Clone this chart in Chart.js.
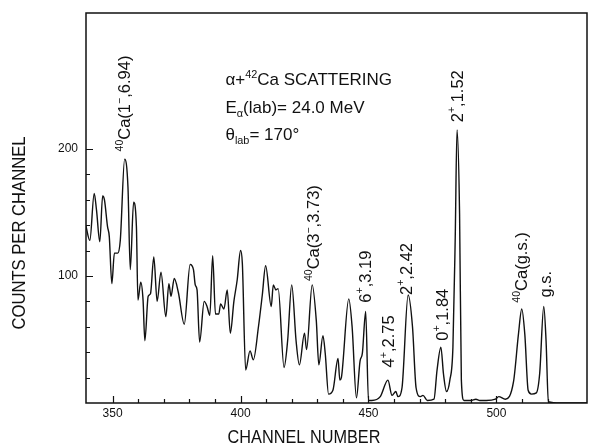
<!DOCTYPE html>
<html>
<head>
<meta charset="utf-8">
<script src="https://cdn.jsdelivr.net/npm/chart.js@4.4.1/dist/chart.umd.min.js"></script>
<style>
  html, body { margin: 0; padding: 0; background: #fff; }
</style>
</head>
<body>
<canvas id="spectrum" width="589" height="445"></canvas>
<script>
// alpha + 42Ca scattering spectrum
const channels = [
  339.5, 341.1, 342.8, 343.7, 345.0, 346.1, 346.8, 348.0, 348.7, 349.7,
  350.7, 352.0, 353.0, 354.7, 356.0, 356.9, 358.2, 359.3, 359.9, 361.0,
  361.9, 362.6, 363.9, 364.8, 366.1, 367.4, 368.9, 370.8, 372.0, 372.8,
  374.1, 375.7, 378.0, 380.3, 381.6, 382.3, 383.0, 384.0, 385.8, 386.9,
  388.0, 389.1, 390.2, 391.5, 392.2, 393.5, 394.8, 396.0, 397.4, 398.7,
  400.0, 400.7, 402.0, 403.7, 405.0, 407.0, 408.5, 409.8, 412.0, 412.8,
  413.8, 414.7, 417.0, 418.4, 420.0, 421.7, 423.0, 425.0, 425.8, 428.0,
  429.6, 430.6, 432.2, 433.1, 434.4, 436.1, 438.1, 438.8, 439.4, 442.3,
  443.6, 445.3, 446.7, 447.6, 448.9, 450.0, 451.3, 454.6, 457.6, 459.2,
  460.7, 461.5, 463.1, 465.5, 467.2, 468.6, 470.3, 471.3, 473.0, 475.6,
  476.8, 478.3, 479.3, 480.5, 481.8, 483.0, 483.9, 484.6, 485.6, 486.3,
  487.3, 490.0, 492.0, 493.5, 496.0, 499.6, 500.9, 503.5, 506.7, 508.6,
  509.9, 511.1, 512.4, 513.7, 515.6, 516.9, 518.5, 519.4, 520.3, 525.0,
  535.4
];
const counts = [
  140, 128, 165, 152, 127, 163, 160, 139, 131, 94,
  118, 118, 128, 192, 170, 105, 158, 139, 81, 95,
  81, 49, 84, 86, 115, 80, 103, 68, 94, 84,
  98, 87, 62, 109, 105, 93, 89, 48, 80, 76,
  69, 116, 70, 70, 78, 74, 89, 55, 80, 97,
  120, 110, 26, 41, 34, 60, 85, 108, 76, 93,
  89, 90, 28, 49, 93, 49, 30, 55, 42, 93,
  65, 30, 53, 39, 7, 10, 35, 18, 20, 82,
  60, 4, 33, 39, 72, 2, 2, 5, 18, 6,
  9, 5, 12, 85, 60, 12, 5, 6, 2, 3,
  26, 44, 23, 9, 18, 44, 130, 215, 149, 18,
  2, 2, 3, 2, 2, 3, 5, 3, 17, 54,
  74, 54, 10, 7, 8, 23, 76, 49, 1, 0,
  0
];
const xTickLabels = [350, 400, 450, 500];
const yTickLabels = [100, 200];

const FONT = '"Liberation Sans", Arial, sans-serif';

// text made of [string, kind] pieces, kind = '', 'sup' or 'sub'
function drawRich(ctx, segs, x, y, size, rotate) {
  ctx.save();
  ctx.translate(x, y);
  if (rotate) ctx.rotate(-Math.PI / 2);
  ctx.fillStyle = '#111';
  ctx.textBaseline = 'alphabetic';
  ctx.textAlign = 'left';
  let cx = 0;
  segs.forEach(([t, kind]) => {
    const s = kind ? size * 0.64 : size;
    ctx.font = s + 'px ' + FONT;
    const dy = kind === 'sup' ? -size * 0.45 : kind === 'sub' ? size * 0.25 : 0;
    ctx.fillText(t, cx, dy);
    cx += ctx.measureText(t).width;
  });
  ctx.restore();
}

// rotated peak labels: channel of the text column, count where text starts
const peakLabels = [
  [354.6, 198, [['40', 'sup'], ['Ca(1', ''], ['\u2212', 'sup'], [',6.94)', '']]],
  [428.5, 96, [['40', 'sup'], ['Ca(3', ''], ['\u2212', 'sup'], [',3.73)', '']]],
  [448.6, 79, [['6', ''], ['+', 'sup'], [',3.19', '']]],
  [457.7, 28, [['4', ''], ['+', 'sup'], [',2.75', '']]],
  [464.6, 85, [['2', ''], ['+', 'sup'], [',2.42', '']]],
  [478.7, 49, [['0', ''], ['+', 'sup'], [',1.84', '']]],
  [484.5, 221, [['2', ''], ['+', 'sup'], [',1.52', '']]],
  [509.8, 79, [['40', 'sup'], ['Ca(g.s.)', '']]],
  [519.0, 83, [['g.s.', '']]]
];

const infoLines = [
  [394.1, 250, [['\u03b1+', ''], ['42', 'sup'], ['Ca SCATTERING', '']]],
  [394.1, 228.5, [['E', ''], ['\u03b1', 'sub'], ['(lab)= 24.0 MeV', '']]],
  [394.1, 207, [['\u03b8', ''], ['lab', 'sub'], ['= 170\u00b0', '']]]
];

const decorations = {
  id: 'decorations',
  afterDraw(chart) {
    const { ctx, chartArea: a, scales: { x, y } } = chart;
    ctx.save();
    ctx.strokeStyle = '#111';
    ctx.lineWidth = 1.5;
    ctx.strokeRect(a.left, a.top, a.right - a.left, a.bottom - a.top);

    // inward tick marks
    ctx.lineWidth = 1.2;
    ctx.beginPath();
    for (let c = 350; c <= 520; c += 10) {
      const px = Math.round(x.getPixelForValue(c)) + 0.5;
      const len = c % 50 === 0 ? 7 : 4;
      ctx.moveTo(px, a.bottom);
      ctx.lineTo(px, a.bottom - len);
    }
    for (let v = 20; v <= 200; v += 20) {
      const py = Math.round(y.getPixelForValue(v)) + 0.5;
      const len = v % 100 === 0 ? 7 : 4;
      ctx.moveTo(a.left, py);
      ctx.lineTo(a.left + len, py);
    }
    ctx.stroke();

    // tick labels
    ctx.fillStyle = '#111';
    ctx.font = '12px ' + FONT;
    ctx.textAlign = 'center';
    ctx.textBaseline = 'top';
    xTickLabels.forEach((c) => ctx.fillText(String(c), x.getPixelForValue(c), a.bottom + 5));
    ctx.textAlign = 'right';
    ctx.textBaseline = 'middle';
    yTickLabels.forEach((v) => ctx.fillText(String(v), a.left - 8, y.getPixelForValue(v)));
    ctx.restore();

    peakLabels.forEach(([c, v, segs]) => {
      drawRich(ctx, segs, x.getPixelForValue(c) + 6, y.getPixelForValue(v), 16.5, true);
    });
    infoLines.forEach(([c, v, segs]) => {
      drawRich(ctx, segs, x.getPixelForValue(c), y.getPixelForValue(v), 17, false);
    });

    // axis titles
    ctx.save();
    ctx.fillStyle = '#111';
    ctx.font = '17.5px ' + FONT;
    ctx.textAlign = 'center';
    ctx.textBaseline = 'alphabetic';
    ctx.save();
    ctx.translate(304, 443);
    ctx.scale(0.93, 1);
    ctx.fillText('CHANNEL NUMBER', 0, 0);
    ctx.restore();
    ctx.translate(25, 233);
    ctx.rotate(-Math.PI / 2);
    ctx.scale(0.95, 1);
    ctx.fillText('COUNTS PER CHANNEL', 0, 0);
    ctx.restore();
  }
};

const ctx = document.getElementById('spectrum').getContext('2d');
new Chart(ctx, {
  type: 'line',
  data: {
    datasets: [{
      data: channels.map((c, i) => ({ x: c, y: counts[i] })),
      borderColor: '#111',
      borderWidth: 1.4,
      pointRadius: 0,
      fill: false,
      cubicInterpolationMode: 'monotone'
    }]
  },
  options: {
    responsive: false,
    animation: false,
    devicePixelRatio: 1,
    layout: { padding: { top: 13, right: 2, left: 0, bottom: 0 } },
    plugins: { legend: { display: false }, tooltip: { enabled: false } },
    scales: {
      x: {
        type: 'linear',
        min: 339.6,
        max: 535.4,
        afterFit: (s) => { s.height = 42; },
        grid: { display: false, drawTicks: false },
        border: { display: false },
        ticks: { display: false }
      },
      y: {
        min: 0,
        max: 307,
        afterFit: (s) => { s.width = 86; },
        grid: { display: false, drawTicks: false },
        border: { display: false },
        ticks: { display: false }
      }
    }
  },
  plugins: [decorations]
});
</script>
</body>
</html>
